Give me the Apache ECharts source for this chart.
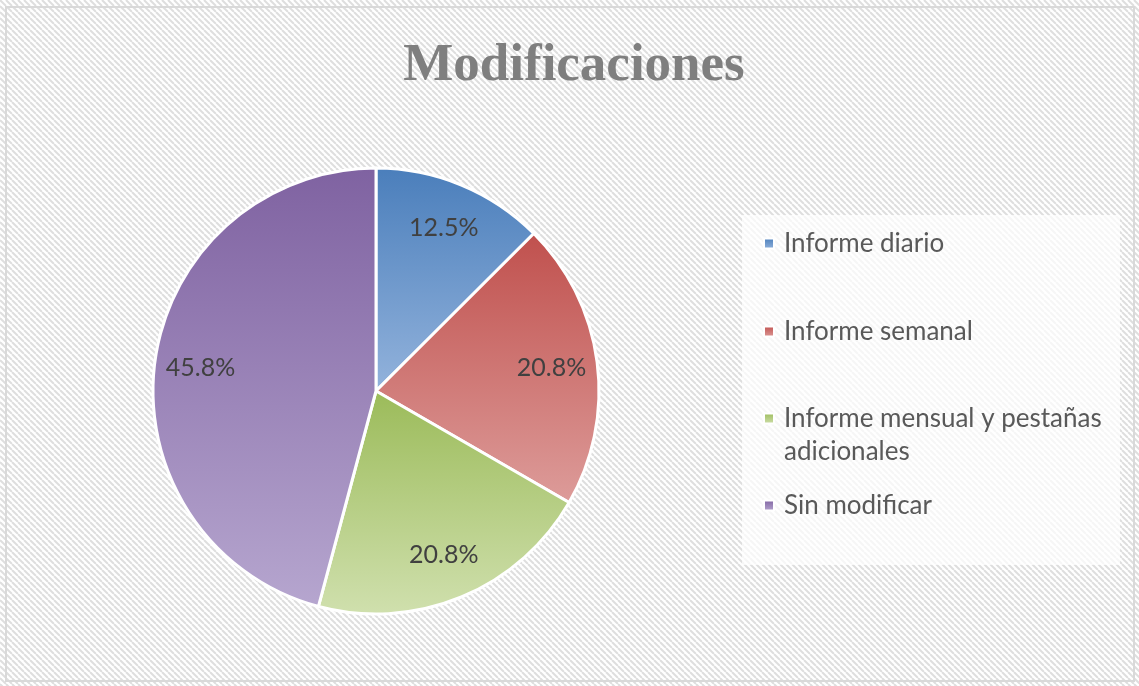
<!DOCTYPE html>
<html>
<head>
<meta charset="utf-8">
<title>Modificaciones</title>
<script src="https://cdn.jsdelivr.net/npm/echarts@6/dist/echarts.min.js"></script>
<style>
  html, body { margin: 0; padding: 0; background: #ffffff; }
  #chart { width: 1139px; height: 686px; }
</style>
</head>
<body>
<div id="chart"></div>
<script>
// ---- data ----
const titleText = 'Modificaciones';
const categories = [
  'Informe diario',
  'Informe semanal',
  'Informe mensual y pestañas adicionales',
  'Sin modificar'
];
const shares = [12.5, 20.8, 20.8, 45.8];          // percent of responses
// the wrapped entry carries a blank first line so its icon sits beside the first text line
const legendLabels = [
  'Informe diario',
  'Informe semanal',
  '\u00a0\nInforme mensual y pestañas\nadicionales',
  'Sin modificar'
];

// ---- styling ----
const sliceColors = [
  ['#4a7ebb', '#93b3dc'],   // blue
  ['#c0504d', '#dd9c9a'],   // red
  ['#9bbb59', '#d0e0ae'],   // green
  ['#7f62a1', '#b6a6cf']    // purple
];
const legendTops = [222, 310, 364, 484];
const CENTER = [376, 391];
const RADIUS = 223;

// Diagonal hatch tile for the chart area background
function hatchTile() {
  const c = document.createElement('canvas');
  c.width = 6; c.height = 6;
  const g = c.getContext('2d');
  g.fillStyle = '#ffffff';
  g.fillRect(0, 0, 6, 6);
  g.strokeStyle = '#dedede';
  g.lineWidth = 2;
  for (const o of [-6, 0, 6]) {
    g.beginPath();
    g.moveTo(o, 0);
    g.lineTo(o + 6, 6);
    g.stroke();
  }
  return c;
}

function vGradient(pair) {
  return new echarts.graphic.LinearGradient(0, 0, 0, 1, [
    { offset: 0, color: pair[0] },
    { offset: 1, color: pair[1] }
  ]);
}

const pieData = categories.map((name, i) => ({
  name,
  value: shares[i],
  itemStyle: { color: vGradient(sliceColors[i]) }
}));

const labelData = categories.map((name, i) => ({ name, value: shares[i] }));

const legendTextStyle = {
  color: '#595959',
  fontFamily: 'Lato, "Open Sans", sans-serif',
  fontSize: 26,
  lineHeight: 33,
  padding: [0, 0, 0, 5]
};

const chart = echarts.init(document.getElementById('chart'), null, { renderer: 'canvas' });

chart.setOption({
  backgroundColor: { image: hatchTile(), repeat: 'repeat' },
  animation: false,
  title: {
    text: titleText,
    left: 569,
    textAlign: 'center',
    top: 35,
    textStyle: {
      color: '#7f7f7f',
      fontFamily: '"Liberation Serif", "DejaVu Serif", serif',
      fontWeight: 'bold',
      fontSize: 53
    }
  },
  graphic: [
    {
      type: 'rect',
      z: -10,
      shape: { x: 6, y: 7, width: 1128, height: 674 },
      style: { fill: 'none', stroke: '#d9d9d9', lineWidth: 2 }
    },
    {
      type: 'rect',
      z: -5,
      shape: { x: 742, y: 215, width: 378, height: 350 },
      style: { fill: 'rgba(255,255,255,0.72)' }
    }
  ],
  legend: categories.map((name, i) => ({
    data: [name],
    orient: 'vertical',
    left: 758,
    top: legendTops[i],
    icon: 'rect',
    itemWidth: 10,
    itemHeight: 10,
    selectedMode: false,
    formatter: () => legendLabels[i],
    textStyle: legendTextStyle
  })),
  series: [
    {
      name: 'Modificaciones',
      type: 'pie',
      center: CENTER,
      radius: [0, RADIUS],
      startAngle: 90,
      clockwise: true,
      silent: true,
      label: { show: false },
      labelLine: { show: false },
      itemStyle: { borderColor: '#ffffff', borderWidth: 3 },
      data: pieData
    },
    {
      // transparent ring carrying the percentage labels
      name: 'etiquetas',
      type: 'pie',
      center: CENTER,
      radius: [Math.round(RADIUS * 0.56), RADIUS],
      startAngle: 90,
      clockwise: true,
      silent: true,
      z: 3,
      itemStyle: { color: 'rgba(0,0,0,0)' },
      label: {
        show: true,
        position: 'inside',
        formatter: p => p.value.toFixed(1) + '%',
        color: '#404040',
        fontFamily: 'Lato, "Open Sans", sans-serif',
        fontSize: 25
      },
      labelLine: { show: false },
      data: labelData
    }
  ]
});
</script>
</body>
</html>
